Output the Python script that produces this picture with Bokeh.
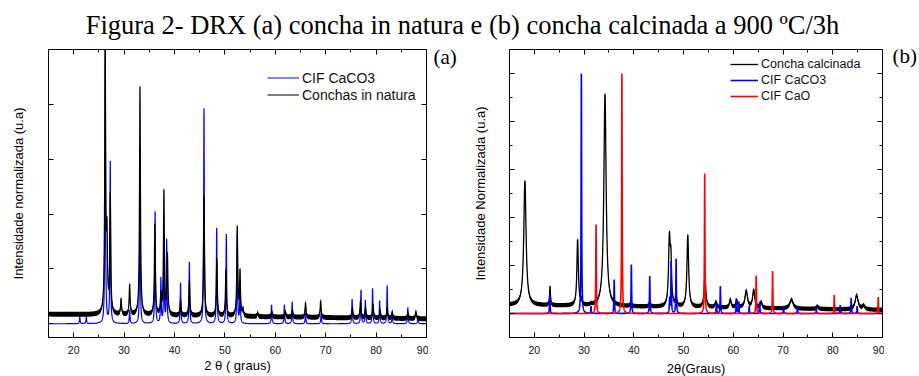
import numpy as np
from bokeh.plotting import figure
from bokeh.models import (LinearAxis, SingleIntervalTicker, Range1d, Legend,
                          LegendItem, Label, CustomJSTickFormatter)
from bokeh.layouts import column, row
from bokeh.embed import file_html
from bokeh.resources import INLINE

TITLE = "Figura 2- DRX (a) concha in natura e (b) concha calcinada a 900 ºC/3h"

# ---------------- (a) concha in natura ----------------
a_cif_pos = [21.2, 22.5, 26.25, 27.25, 31.1, 33.15, 36.15, 37.3, 37.9, 38.45, 41.2,
             42.95, 45.85, 48.37, 50.28, 52.45, 53.0, 59.26, 61.8, 63.35, 66.0,
             69.1, 75.24, 77.0, 77.87, 79.3, 80.7, 82.2, 83.2, 86.3, 88.3]
a_cif_hgt = [0.025, 0.025, 1.0, 0.594, 0.05, 0.55, 0.41, 0.17, 0.30, 0.31, 0.15,
             0.226, 0.786, 0.35, 0.327, 0.33, 0.15, 0.069, 0.07, 0.08, 0.04,
             0.04, 0.09, 0.124, 0.087, 0.129, 0.085, 0.139, 0.04, 0.06, 0.03]
a_exp_pos = [26.25, 26.6, 27.25, 29.4, 31.1, 33.15, 36.1, 37.3, 37.9, 38.6, 41.2,
             42.95, 45.85, 48.4, 50.2, 52.45, 53.0, 53.6, 56.5, 59.3, 62.0, 63.4,
             66.0, 69.0, 75.3, 76.9, 77.9, 79.4, 80.8, 82.2, 83.2, 86.3, 87.9]
a_exp_hgt = [1.02, 0.39, 0.48, 0.092, 0.145, 0.865, 0.365, 0.12, 0.49, 0.26, 0.09,
             0.16, 0.467, 0.24, 0.197, 0.358, 0.20, 0.06, 0.04, 0.045, 0.045, 0.05,
             0.078, 0.084, 0.06, 0.084, 0.06, 0.07, 0.05, 0.06, 0.045, 0.04, 0.045]
a_exp_bg = [0.035, 0.018]   # background level at 15 and 90 degrees

# ---------------- (b) concha calcinada ----------------
b_exp_pos = [18.1, 23.15, 28.7, 29.4, 31.4, 34.2, 36.0, 39.4, 43.2, 47.15, 47.45,
             48.5, 50.85, 54.3, 56.5, 59.4, 60.7, 62.6, 64.1, 65.6, 71.7, 76.9,
             84.8, 86.2]
b_exp_hgt = [0.552, 0.114, 0.309, 0.07, 0.045, 0.914, 0.05, 0.05, 0.05, 0.34, 0.28,
             0.08, 0.327, 0.156, 0.05, 0.06, 0.055, 0.096, 0.10, 0.05, 0.058, 0.03,
             0.077, 0.035]
b_exp_wid = [0.55, 0.2, 0.35, 0.3, 0.3, 0.55, 0.3, 0.3, 0.3, 0.4, 0.3,
             0.3, 0.4, 0.4, 0.4, 0.4, 0.4, 0.6, 0.5, 0.4, 0.8, 0.5,
             0.7, 0.6]
b_exp_bg = [0.035, 0.015]
b_cif_pos = [23.1, 29.45, 31.4, 36.05, 39.5, 43.2, 47.2, 47.5, 48.5, 56.6, 57.4,
             60.6, 61.1, 63.2, 65.3, 70.1, 72.9, 76.7, 81.5, 83.7, 84.9]
b_cif_hgt = [0.08, 1.0, 0.03, 0.142, 0.204, 0.156, 0.07, 0.218, 0.228, 0.046, 0.114,
             0.063, 0.05, 0.03, 0.05, 0.03, 0.03, 0.025, 0.035, 0.065, 0.03]
b_cao_pos = [32.4, 37.6, 54.25, 64.6, 67.9, 80.3, 89.15]
b_cao_hgt = [0.371, 1.0, 0.583, 0.158, 0.177, 0.077, 0.068]

x = np.linspace(15, 90, 7501)


def profile(pos, hgt, wid, bg):
    pos = np.asarray(pos, float)
    hgt = np.asarray(hgt, float)
    wid = np.broadcast_to(np.asarray(wid, float), pos.shape)
    base = bg[0] + (bg[1] - bg[0]) * (x - 15) / 75
    base_at = bg[0] + (bg[1] - bg[0]) * (pos - 15) / 75
    M = 1 / (1 + ((pos[:, None] - pos[None, :]) / (wid[None, :] / 2)) ** 2)
    amp = np.clip(np.linalg.solve(M, hgt - base_at), 0, None)
    y = base + (amp[None, :] / (1 + ((x[:, None] - pos[None, :]) / (wid[None, :] / 2)) ** 2)).sum(axis=1)
    return y


SANS = "Liberation Sans"
SERIF = "Liberation Serif"


def add_axes(p, xlabel, ylabel, y_minor, xstand, ylabstand):
    specs = [("below", xlabel), ("above", None), ("left", ylabel), ("right", None)]
    for place, lab in specs:
        horiz = place in ("below", "above")
        tk = SingleIntervalTicker(interval=10 if horiz else 0.2, num_minor_ticks=2)
        ax = LinearAxis(ticker=tk)
        ax.axis_line_color = "black"
        ax.major_tick_line_color = "black"
        ax.major_tick_in = 5
        ax.major_tick_out = 0
        ax.minor_tick_in = 3
        ax.minor_tick_out = 0
        ax.minor_tick_line_color = "black" if (horiz or y_minor) else None
        ax.major_label_text_font = SANS
        ax.major_label_text_color = "#111111"
        if place == "below":
            ax.major_label_text_font_size = "10.5px"
            ax.major_label_standoff = 8
            ax.axis_label = lab
            ax.axis_label_standoff = xstand
        else:
            ax.formatter = CustomJSTickFormatter(code="return ''")
            ax.major_label_text_font_size = "1px"
            ax.major_label_standoff = 0
        if place == "left":
            ax.axis_label = lab
            ax.axis_label_standoff = ylabstand
        ax.axis_label_text_font = SANS
        ax.axis_label_text_font_size = "13px"
        ax.axis_label_text_font_style = "normal"
        ax.axis_label_text_color = "black"
        p.add_layout(ax, place)


def base_fig(fw, fh, yr, bl, br, bt, bb):
    p = figure(frame_width=fw, frame_height=fh, x_range=Range1d(15, 90),
               y_range=Range1d(*yr), title=None,
               output_backend="svg", toolbar_location=None, x_axis_type=None,
               y_axis_type=None, min_border_left=bl, min_border_right=br,
               min_border_top=bt, min_border_bottom=bb)
    p.outline_line_color = "black"
    p.xgrid.visible = False
    p.ygrid.visible = False
    p.background_fill_color = "white"
    return p


def text_fig(w, h):
    f = figure(frame_width=w, frame_height=h, x_range=Range1d(0, w),
               y_range=Range1d(0, h), title=None, output_backend="svg",
               toolbar_location=None, x_axis_type=None, y_axis_type=None,
               min_border=0)
    f.outline_line_color = None
    f.xgrid.visible = False
    f.ygrid.visible = False
    return f


# ---- title strip ----
t = text_fig(919, 40)
t.add_layout(Label(x=462, y=16, text=TITLE, text_font=SERIF, text_font_size="26.5px",
                   text_align="center", text_baseline="middle", text_color="black"))

# ---- panel (a) ----
p1 = base_fig(378, 288, (-0.05, 1.0), 48, 2, 9, 39)
add_axes(p1, "2 θ ( graus)", "Intensidade normalizada (u.a)", False, 1, 23)
ya_cif = profile(a_cif_pos, a_cif_hgt, 0.15, [0, 0])
ya_exp = profile(a_exp_pos, a_exp_hgt, 0.22, a_exp_bg)
r_a_cif = p1.line(x, ya_cif, line_color="#0000FF", line_width=1.2)
p1.varea(x=x, y1=ya_exp - 0.009, y2=ya_exp + 0.009, fill_color="black")
r_a_exp = p1.line(x, ya_exp, line_color="black", line_width=1.2)
leg1 = Legend(items=[LegendItem(label="CIF CaCO3", renderers=[r_a_cif]),
                     LegendItem(label="Conchas in natura", renderers=[r_a_exp])],
              location=(219, 234), glyph_width=32, glyph_height=17, label_height=17,
              label_standoff=3, spacing=0, padding=0, margin=0,
              border_line_color=None, background_fill_alpha=0,
              label_text_font=SANS, label_text_font_size="14px",
              label_text_color="#111111")
p1.add_layout(leg1)

fa = text_fig(38, 336)
fa.add_layout(Label(x=5, y=329, text="(a)", text_font=SERIF, text_font_size="21px",
                    text_baseline="middle", text_color="black"))

# ---- panel (b) ----
p2 = base_fig(373, 288, (-0.1, 1.1), 43, 2, 5, 43)
add_axes(p2, "2θ(Graus)", "Intensidade Normalizada (u.a)", True, 4, 22)
yb_exp = profile(b_exp_pos, b_exp_hgt, b_exp_wid, b_exp_bg)
yb_cif = profile(b_cif_pos, b_cif_hgt, 0.12, [0, 0])
yb_cao = profile(b_cao_pos, b_cao_hgt, 0.12, [0, 0])
p2.varea(x=x, y1=yb_exp - 0.009, y2=yb_exp + 0.009, fill_color="black")
r_b_exp = p2.line(x, yb_exp, line_color="black", line_width=1.3)
r_b_cif = p2.line(x, yb_cif, line_color="#0000FF", line_width=1.6)
r_b_cao = p2.line(x, yb_cao, line_color="#FF0000", line_width=1.6)
leg2 = Legend(items=[LegendItem(label="Concha calcinada", renderers=[r_b_exp]),
                     LegendItem(label="CIF CaCO3", renderers=[r_b_cif]),
                     LegendItem(label="CIF CaO", renderers=[r_b_cao])],
              location=(221, 233), glyph_width=28, glyph_height=16, label_height=16,
              label_standoff=3, spacing=0, padding=0, margin=0,
              border_line_color=None, background_fill_alpha=0,
              label_text_font=SANS, label_text_font_size="12.5px",
              label_text_color="#111111")
p2.add_layout(leg2)

fb = text_fig(35, 336)
fb.add_layout(Label(x=8, y=330, text="(b)", text_font=SERIF, text_font_size="21px",
                    text_baseline="middle", text_color="black"))

layout = column(t, row(p1, fa, p2, fb))
open("out.html", "w").write(file_html(layout, INLINE, "DRX"))
